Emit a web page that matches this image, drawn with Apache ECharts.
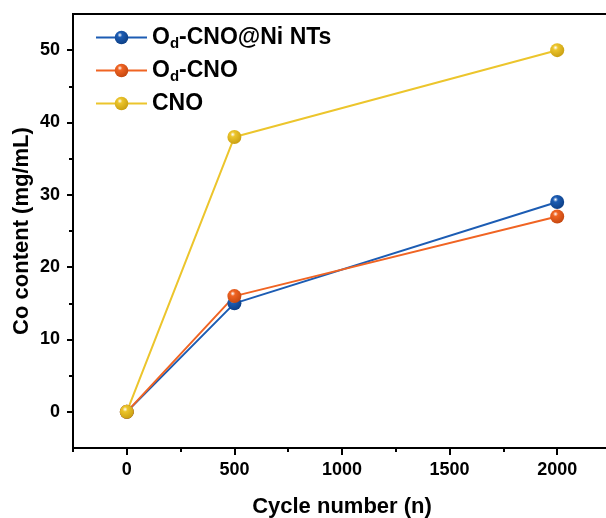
<!DOCTYPE html>
<html>
<head>
<meta charset="utf-8">
<script src="https://cdn.jsdelivr.net/npm/echarts@6/dist/echarts.min.js"></script>
<style>
  html, body { margin: 0; padding: 0; background: #fff; }
  #main { width: 606px; height: 518px; }
</style>
</head>
<body>
<div id="main"></div>
<script>
// data
var cycles = [0, 500, 2000];
var niNTs = [0, 15, 29];     // Od-CNO@Ni NTs
var odCNO = [0, 16, 27];     // Od-CNO
var cno = [0, 38, 50];       // CNO
var xMajor = [0, 500, 1000, 1500, 2000];
var xMinor = [-250, 250, 750, 1250, 1750];
var yMajor = [0, 10, 20, 30, 40, 50];
var yMinor = [5, 15, 25, 35, 45];

var FONT = 'Arial, "Liberation Sans", sans-serif';

function pairs(ys) {
  return cycles.map(function (x, i) { return [x, ys[i]]; });
}

function ball(c, dark) {
  return new echarts.graphic.RadialGradient(0.38, 0.32, 0.7, [
    { offset: 0, color: '#ffffff' },
    { offset: 0.25, color: c },
    { offset: 1, color: dark }
  ]);
}

function mkSeries(name, ys, c, dark) {
  return {
    name: name,
    type: 'line',
    data: pairs(ys),
    symbol: 'circle',
    symbolSize: 14,
    lineStyle: { color: c, width: 2 },
    itemStyle: { color: ball(c, dark) },
    emphasis: { disabled: true }
  };
}

var tickText = { fontFamily: FONT, fontWeight: 'bold', fontSize: 18, color: '#000' };
var nameText = { fontFamily: FONT, fontWeight: 'bold', fontSize: 22, color: '#000' };

var myChart = echarts.init(document.getElementById('main'));

var option = {
  animation: false,
  grid: {
    left: 73, top: 14, right: -5, bottom: 70,
    outerBoundsMode: 'none',
    containLabel: false,
    show: true, borderColor: '#000', borderWidth: 2
  },
  legend: {
    left: 95, top: 26,
    padding: 0,
    orient: 'vertical',
    itemWidth: 51, itemHeight: 17,
    itemGap: 8,
    data: ['Od-CNO@Ni NTs', 'Od-CNO', 'CNO'],
    formatter: function (n) {
      if (n.indexOf('Od') === 0) return '{b|O}{s|d}{b|' + n.slice(2) + '}';
      return '{b|' + n + '}';
    },
    textStyle: {
      rich: {
        b: { fontFamily: FONT, fontWeight: 'bold', fontSize: 23, color: '#000' },
        s: { fontFamily: FONT, fontWeight: 'bold', fontSize: 15, color: '#000', padding: [12, 0, 0, 0] }
      }
    }
  },
  xAxis: [{
    type: 'value',
    min: -250, max: 2250,
    name: 'Cycle number (n)',
    nameLocation: 'middle',
    nameGap: 48,
    nameTextStyle: nameText,
    axisLine: { show: true, onZero: false, lineStyle: { color: '#000', width: 2 } },
    axisTick: { show: true, customValues: xMajor, length: 7, lineStyle: { color: '#000', width: 2 } },
    axisLabel: Object.assign({ customValues: xMajor, margin: 13, formatter: function (v) { return String(v); } }, tickText),
    splitLine: { show: false }
  }, {
    type: 'value',
    min: -250, max: 2250,
    position: 'bottom',
    axisLine: { show: false, onZero: false },
    axisTick: { show: true, customValues: xMinor, length: 4, lineStyle: { color: '#000', width: 2 } },
    axisLabel: { show: false },
    splitLine: { show: false }
  }],
  yAxis: [{
    type: 'value',
    min: -5, max: 55,
    name: 'Co content (mg/mL)',
    nameLocation: 'middle',
    nameGap: 40,
    nameMoveOverlap: false,
    nameTextStyle: nameText,
    axisLine: { show: true, onZero: false, lineStyle: { color: '#000', width: 2 } },
    axisTick: { show: true, customValues: yMajor, length: 6, lineStyle: { color: '#000', width: 2 } },
    axisLabel: Object.assign({ customValues: yMajor, margin: 13 }, tickText),
    splitLine: { show: false }
  }, {
    type: 'value',
    min: -5, max: 55,
    position: 'left',
    axisLine: { show: false, onZero: false },
    axisTick: { show: true, customValues: yMinor, length: 4, lineStyle: { color: '#000', width: 2 } },
    axisLabel: { show: false },
    splitLine: { show: false }
  }],
  series: [
    mkSeries('Od-CNO@Ni NTs', niNTs, '#1c5cb3', '#0d3f85'),
    mkSeries('Od-CNO', odCNO, '#f06423', '#c44710'),
    mkSeries('CNO', cno, '#ecc52c', '#c99f12')
  ]
};

myChart.setOption(option);
</script>
</body>
</html>
